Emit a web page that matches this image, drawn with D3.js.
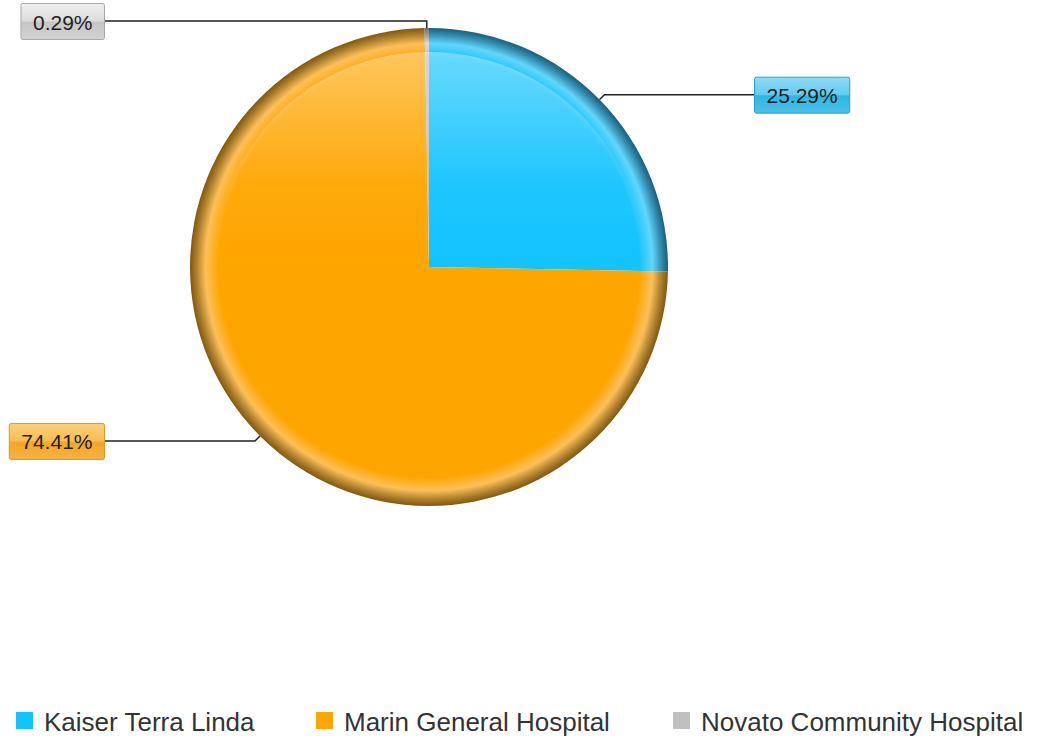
<!DOCTYPE html>
<html>
<head>
<meta charset="utf-8">
<script src="https://cdn.jsdelivr.net/npm/d3@7"></script>
<style>
  body { margin: 0; background: #fff; }
  svg { display: block; font-family: "Liberation Sans", Arial, sans-serif; }
</style>
</head>
<body>
<script>
// chart data
const hospitals = ["Kaiser Terra Linda", "Marin General Hospital", "Novato Community Hospital"];
const shares = [25.29, 74.41, 0.29];
const labels = ["25.29%", "74.41%", "0.29%"];
const colors = ["#13c3fd", "#ffa500", "#c0c0c0"];
const rimDark = ["#175f7e", "#805810", "#6e6e6e"];
const rimLight = ["#62d6fc", "#fcc05a", "#dcdcdc"];
const boxTop = ["#8fdcf6", "#fcd07a", "#eeeeee"];
const boxBottom = ["#2fb6e4", "#f3a627", "#c6c6c6"];
const boxStroke = ["#2a9fca", "#d9962a", "#a8a8a8"];

const width = 1039, height = 740;
const cx = 429, cy = 267, r = 239;

const svg = d3.select("body").append("svg")
    .attr("width", width)
    .attr("height", height);

const defs = svg.append("defs");

// radial gradient per slice (centre at 0,0 of the pie group): flat base, light band, dark rim
hospitals.forEach((h, i) => {
  const g = defs.append("radialGradient")
      .attr("id", "slice" + i)
      .attr("gradientUnits", "userSpaceOnUse")
      .attr("cx", 0).attr("cy", 0).attr("r", r);
  g.append("stop").attr("offset", "0%").attr("stop-color", colors[i]);
  g.append("stop").attr("offset", "88%").attr("stop-color", colors[i]);
  g.append("stop").attr("offset", "93.5%").attr("stop-color", rimLight[i]);
  g.append("stop").attr("offset", "97.5%").attr("stop-color", d3.interpolateRgb(rimLight[i], rimDark[i])(0.65));
  g.append("stop").attr("offset", "100%").attr("stop-color", rimDark[i]);

  const b = defs.append("linearGradient")
      .attr("id", "box" + i)
      .attr("x1", 0).attr("y1", 0).attr("x2", 0).attr("y2", 1);
  b.append("stop").attr("offset", "0%").attr("stop-color", boxTop[i]);
  b.append("stop").attr("offset", "48%").attr("stop-color", d3.interpolateRgb(boxTop[i], boxBottom[i])(0.45));
  b.append("stop").attr("offset", "52%").attr("stop-color", boxBottom[i]);
  b.append("stop").attr("offset", "100%").attr("stop-color", d3.interpolateRgb(boxBottom[i], boxTop[i])(0.3));
});

// top gloss
const gloss = defs.append("linearGradient")
    .attr("id", "gloss")
    .attr("gradientUnits", "userSpaceOnUse")
    .attr("x1", 0).attr("y1", -r).attr("x2", 0).attr("y2", 0);
gloss.append("stop").attr("offset", "0%").attr("stop-color", "#fff").attr("stop-opacity", 0.42);
gloss.append("stop").attr("offset", "65%").attr("stop-color", "#fff").attr("stop-opacity", 0.05);
gloss.append("stop").attr("offset", "100%").attr("stop-color", "#fff").attr("stop-opacity", 0);

const pie = d3.pie().sort(null).value(d => d)(shares);
const arc = d3.arc().innerRadius(0).outerRadius(r);
const glossArc = d3.arc().innerRadius(0).outerRadius(r * 0.9);

const g = svg.append("g").attr("transform", `translate(${cx},${cy})`);

g.selectAll("path.slice")
  .data(pie)
  .join("path")
    .attr("class", "slice")
    .attr("d", arc)
    .attr("fill", (d, i) => `url(#slice${i})`);

g.selectAll("path.gloss")
  .data(pie)
  .join("path")
    .attr("class", "gloss")
    .attr("d", glossArc)
    .attr("fill", "url(#gloss)");

// labels with leader lines
const boxGap = 86, boxH = 36, padX = 12;
const lab = svg.append("g");

pie.forEach((d, i) => {
  const mid = (d.startAngle + d.endAngle) / 2;
  const sx = cx + Math.sin(mid) * r, sy = cy - Math.cos(mid) * r;
  const ex = cx + Math.sin(mid) * (r + 7), ey = cy - Math.cos(mid) * (r + 7);
  const right = Math.sin(mid) > 0;

  const t = lab.append("text")
      .attr("font-size", 21)
      .attr("fill", "#1e1e1e")
      .attr("text-anchor", "middle")
      .attr("dominant-baseline", "central")
      .text(labels[i]);
  const tw = t.node().getComputedTextLength();
  const bw = tw + padX * 2;
  const bx = right ? cx + r + boxGap : cx - r - boxGap - bw;
  const by = ey - boxH / 2;

  lab.insert("path", "text")
      .attr("d", d3.line()([[sx, sy], [ex, ey], [right ? bx : bx + bw, ey]]))
      .attr("fill", "none")
      .attr("stroke", "#222")
      .attr("stroke-width", 1.5);

  lab.insert("rect", "text")
      .attr("x", bx + 0.5).attr("y", by + 0.5)
      .attr("width", bw).attr("height", boxH)
      .attr("rx", 2)
      .attr("fill", `url(#box${i})`)
      .attr("stroke", boxStroke[i]);

  t.attr("x", bx + bw / 2 + 0.5).attr("y", ey + 1);
});

// legend
const legendX = [16, 316, 673];
const legend = svg.append("g")
  .selectAll("g")
  .data(hospitals)
  .join("g")
    .attr("transform", (d, i) => `translate(${legendX[i]},712)`);

legend.append("rect")
    .attr("width", 17).attr("height", 17)
    .attr("fill", (d, i) => colors[i]);

legend.append("text")
    .attr("x", 28).attr("y", 19)
    .attr("font-size", 26)
    .attr("fill", "#333")
    .text(d => d);
</script>
</body>
</html>
